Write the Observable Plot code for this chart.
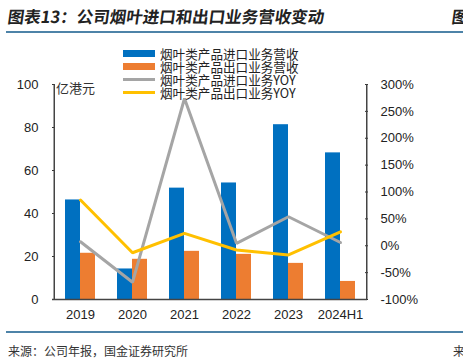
<!DOCTYPE html>
<html><head><meta charset="utf-8">
<script src="https://cdn.jsdelivr.net/npm/d3@7"></script>
<script src="https://cdn.jsdelivr.net/npm/@observablehq/plot@0.6"></script>
<style>
body{margin:0;background:#fff;width:463px;height:363px;overflow:hidden;position:relative;font-family:"Liberation Sans",Arial,sans-serif;}
#title{position:absolute;left:8px;top:4px;font-family:"Noto Sans CJK SC";font-weight:bold;font-size:16.5px;color:#222;white-space:nowrap;transform:skewX(-8deg);}
#title2{position:absolute;left:452px;top:4px;font-family:"Noto Sans CJK SC";font-weight:bold;font-size:16.5px;color:#222;transform:skewX(-8deg);}
.rule{position:absolute;left:6px;right:0;height:2px;background:#4d83a8;}
#foot{position:absolute;left:8px;top:342px;font-family:"Noto Sans CJK SC";font-size:12px;color:#333;}
#foot2{position:absolute;left:453px;top:342px;font-family:"Noto Sans CJK SC";font-size:12px;color:#333;}
#chart{position:absolute;left:0;top:0;}
#legend{position:absolute;left:123px;top:47px;font-family:"Noto Sans CJK SC";font-size:12.6px;line-height:13px;color:#222;}
.li{display:flex;align-items:center;height:13px;line-height:13px;white-space:nowrap;}
.sw{width:32px;margin-right:5px;flex:none;}
#unit{position:absolute;left:56px;top:78px;font-family:"Noto Sans CJK SC";font-size:13px;color:#333;}
</style></head><body>
<div id="title">图表13：公司烟叶进口和出口业务营收变动</div>
<div id="title2">图</div>
<div class="rule" style="top:31px"></div>
<div id="chart"></div>
<div class="rule" style="top:331px"></div>
<div id="foot">来源：公司年报，国金证券研究所</div>
<div id="foot2">来</div>
<div id="unit">亿港元</div>
<div id="legend"></div>
<script>
const years = ["2019","2020","2021","2022","2023","2024H1"];
const importRev = [46.3, 14.2, 51.8, 54.2, 81.3, 68.2];
const exportRev = [21.5, 18.7, 22.4, 21.0, 16.8, 8.4];
const importYoy = [7.5, -68, 274, 4.5, 54, 6];
const exportYoy = [85, -13, 23, -8, -17, 26];
const leftTicks = [0, 20, 40, 60, 80, 100];
const rightTicks = [-100, -50, 0, 50, 100, 150, 200, 250, 300];
const seriesNames = ["烟叶类产品进口业务营收","烟叶类产品出口业务营收","烟叶类产品进口业务YOY","烟叶类产品出口业务YOY"];
const colors = ["#0070c0","#ed7d31","#a5a5a5","#ffc000"];

const toLeft = v => (v + 100) / 4;
const rows = years.map((y, i) => ({year: y, imp: importRev[i], exp: exportRev[i], iy: importYoy[i], ey: exportYoy[i]}));

const chart = Plot.plot({
  width: 463, height: 363,
  marginLeft: 52, marginRight: 96, marginTop: 84, marginBottom: 64,
  x: {domain: years, paddingInner: 0.4286, paddingOuter: 0.2143, align: 0.5},
  y: {domain: [0, 100]},
  style: {fontFamily: "Liberation Sans, Arial, sans-serif", fontSize: "13px", color: "#222", background: "transparent"},
  marks: [
    Plot.barY(rows, {x: "year", y: "imp", fill: colors[0], insetRight: 15}),
    Plot.barY(rows, {x: "year", y: "exp", fill: colors[1], insetLeft: 15}),
    Plot.line(rows, {x: "year", y: d => toLeft(d.iy), stroke: colors[2], strokeWidth: 3, strokeLinejoin: "miter"}),
    Plot.line(rows, {x: "year", y: d => toLeft(d.ey), stroke: colors[3], strokeWidth: 3, strokeLinejoin: "miter"}),
    Plot.axisX({tickSize: 0, tickPadding: 10, fontSize: 13, label: null}),
    Plot.axisY({anchor: "left", ticks: leftTicks, tickSize: -3, tickPadding: 17, fontSize: 13, label: null, stroke: "#333"}),
    Plot.axisY({anchor: "right", ticks: rightTicks.map(toLeft), tickFormat: v => (v * 4 - 100) + "%", tickSize: -3, tickPadding: 16, fontSize: 13, label: null, stroke: "#333", textAnchor: "start"}),
    Plot.ruleY([0], {stroke: "#444", strokeWidth: 1.5}),
    Plot.ruleX([years[0]], {y1: 0, y2: 100, dx: -26.25, stroke: "#444", strokeWidth: 1.5}),
    Plot.ruleX([years[5]], {y1: 0, y2: 100, dx: 26.25, stroke: "#444", strokeWidth: 1.5})
  ]
});
document.getElementById("chart").appendChild(chart);

const lg = document.getElementById("legend");
seriesNames.forEach((n, i) => {
  const d = document.createElement("div"); d.className = "li";
  const s = document.createElement("div"); s.className = "sw";
  s.style.height = i < 2 ? "7px" : "3px"; s.style.background = colors[i];
  d.appendChild(s); d.appendChild(document.createTextNode(n)); lg.appendChild(d);
});
</script>
</body></html>
